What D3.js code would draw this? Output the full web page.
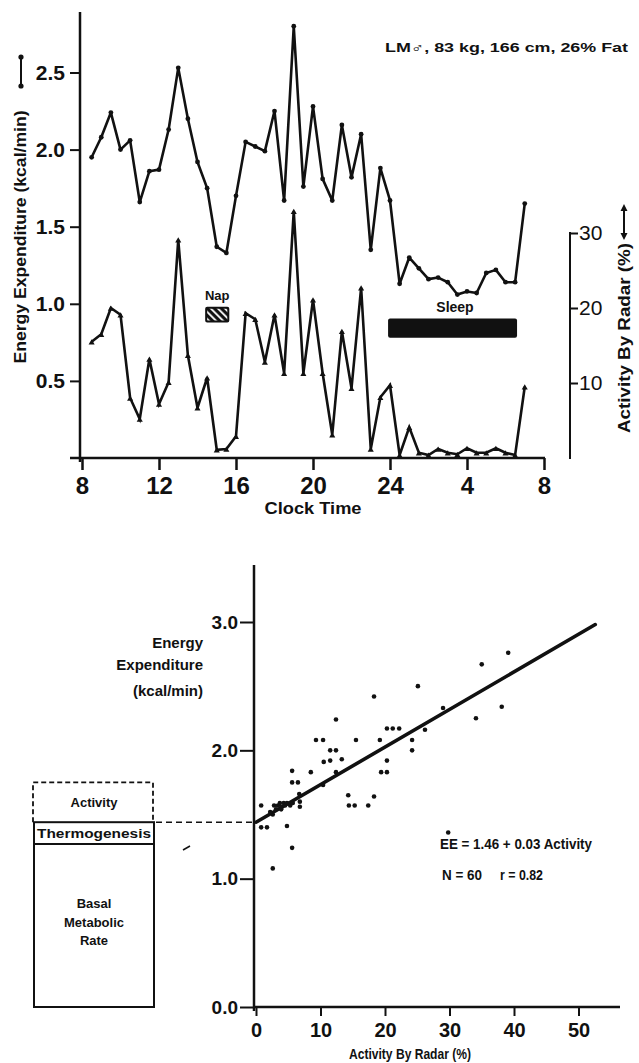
<!DOCTYPE html>
<html><head><meta charset="utf-8">
<script src="https://cdn.jsdelivr.net/npm/d3@7"></script>
<style>
body{margin:0;background:#fff}
svg{display:block}
text{font-family:"Liberation Sans",Arial,sans-serif;fill:#111;font-weight:bold}
</style>
</head><body>
<svg id="c" width="639" height="1063"></svg>
<script>
// ---------- Top panel data ----------
const clockHours = [8.5,9,9.5,10,10.5,11,11.5,12,12.5,13,13.5,14,14.5,15,15.5,16,16.5,17,17.5,18,18.5,19,19.5,20,20.5,21,21.5,22,22.5,23,23.5,24,24.5,25,25.5,26,26.5,27,27.5,28,28.5,29,29.5,30,30.5,31];
const energyExpenditure = [1.95,2.08,2.24,2.0,2.06,1.66,1.86,1.87,2.13,2.53,2.2,1.92,1.75,1.37,1.33,1.70,2.05,2.02,1.99,2.25,1.67,2.80,1.76,2.28,1.81,1.67,2.16,1.82,2.10,1.35,1.88,1.67,1.13,1.30,1.23,1.16,1.17,1.14,1.06,1.08,1.07,1.20,1.22,1.14,1.14,1.65];
const activityRadar = [15.5,16.5,20.0,19.1,8.0,5.2,13.2,7.2,10.1,29.1,13.7,6.7,10.7,1.1,1.2,2.9,19.3,18.5,12.8,19.1,11.3,32.9,11.3,21.1,11.3,3.1,16.9,9.3,22.7,1.2,8.1,9.7,0.4,4.1,0.7,0.4,1.2,0.7,0.5,1.3,0.7,0.7,1.3,0.7,0.4,9.5];
const timeTicks = [8,12,16,20,24,28,32];
const timeTickLabels = ["8","12","16","20","24","4","8"];
const eeTicks = [0.5,1.0,1.5,2.0,2.5];
const activityTicks = [10,20,30];
const napPeriod = [14.45,15.6];   // clock hours
const sleepPeriod = [23.9,30.6];  // clock hours
const subjectLabel = "LM\u2642, 83 kg, 166 cm, 26% Fat";

// ---------- Bottom panel data ----------
const scatterActivity = [0.8,0.8,1.7,2.6,2.8,2.6,3.1,3.4,3.7,4.0,4.3,4.5,4.8,5.3,5.7,4.8,5.6,5.6,5.6,6.5,6.7,6.8,6.8,8.5,9.3,10.4,10.4,10.5,11.5,11.5,12.4,12.4,12.4,13.3,14.3,14.4,15.3,15.5,17.4,18.3,18.3,19.2,19.4,20.3,20.3,20.3,21.2,22.2,24.2,24.2,25.1,26.2,29.0,29.8,34.1,35.0,38.1,39.1,3.9,2.2];
const scatterEE = [1.57,1.40,1.40,1.08,1.57,1.50,1.54,1.57,1.59,1.56,1.59,1.57,1.59,1.57,1.59,1.41,1.24,1.84,1.75,1.75,1.66,1.60,1.56,1.83,2.08,2.08,1.73,1.91,2.00,1.92,2.24,2.00,1.83,1.93,1.65,1.57,1.57,2.08,1.57,1.64,2.42,2.08,1.83,1.83,1.92,2.17,2.17,2.17,2.08,2.00,2.50,2.16,2.33,1.36,2.25,2.67,2.34,2.76,1.54,1.52];
const fitActivity = [0,52.6];
const fitEE = [1.44,2.98];
const radarTicks = [0,10,20,30,40,50];
const eeTicks2 = [0,1,2,3];
const bandLabels = ["Basal Metabolic Rate","Thermogenesis","Activity"];
const bandFrom = [0,1.27,1.44];
const bandTo = [1.27,1.44,1.75];

const svg = d3.select("#c");
const ink = "#111";

// ================= TOP PANEL =================
const x = d3.scaleLinear().domain([8,32]).range([82,544]);
const yEE = d3.scaleLinear().domain([0,2.5]).range([458,72.5]);
const yAct = d3.scaleLinear().domain([0,30]).range([458,233]);

// axis lines
svg.append("line").attr("x1",80).attr("x2",80).attr("y1",12).attr("y2",462).attr("stroke",ink).attr("stroke-width",2.5);
svg.append("line").attr("x1",70).attr("x2",545).attr("y1",458).attr("y2",458).attr("stroke",ink).attr("stroke-width",2.5);
svg.append("line").attr("x1",570).attr("x2",570).attr("y1",yAct(30)-1).attr("y2",459).attr("stroke",ink).attr("stroke-width",2);

const gL = svg.append("g").attr("transform","translate(80,0)")
  .call(d3.axisLeft(yEE).tickValues(eeTicks).tickSize(10).tickPadding(5).tickFormat(d3.format(".1f")));
gL.select(".domain").remove();
gL.selectAll(".tick line").attr("stroke",ink).attr("stroke-width",2);
gL.selectAll("text").style("font-size","21px").attr("fill",ink);

const gX = svg.append("g").attr("transform","translate(0,458)")
  .call(d3.axisBottom(x).tickValues(timeTicks).tickSize(12).tickPadding(7).tickFormat((d,i)=>timeTickLabels[i]));
gX.select(".domain").remove();
gX.selectAll(".tick line").attr("stroke",ink).attr("stroke-width",2.5);
gX.selectAll("text").style("font-size","24px").attr("fill",ink);

const gR = svg.append("g").attr("transform","translate(570,0)")
  .call(d3.axisRight(yAct).tickValues(activityTicks).tickSize(8).tickPadding(1));
gR.select(".domain").remove();
gR.selectAll(".tick line").attr("stroke",ink).attr("stroke-width",2);
gR.selectAll("text").style("font-size","21px").style("font-weight","normal").attr("fill",ink);

// series lines
const eeLine = d3.line().x((d,i)=>x(clockHours[i])).y(d=>yEE(d));
svg.append("path").attr("d",eeLine(energyExpenditure)).attr("fill","none").attr("stroke",ink).attr("stroke-width",2.6).attr("stroke-linejoin","round");
svg.selectAll(".eeDot").data(energyExpenditure).enter().append("circle")
  .attr("cx",(d,i)=>x(clockHours[i])).attr("cy",d=>yEE(d)).attr("r",2.4).attr("fill",ink);

const actLine = d3.line().x((d,i)=>x(clockHours[i])).y(d=>yAct(d));
svg.append("path").attr("d",actLine(activityRadar)).attr("fill","none").attr("stroke",ink).attr("stroke-width",2.6).attr("stroke-linejoin","miter");
const tri = d3.symbol().type(d3.symbolTriangle).size(16);
svg.selectAll(".actMk").data(activityRadar).enter().append("path")
  .attr("d",tri).attr("transform",(d,i)=>`translate(${x(clockHours[i])},${yAct(d)+1})`).attr("fill",ink);

// Nap box
const defs = svg.append("defs");
const pat = defs.append("pattern").attr("id","hatch").attr("patternUnits","userSpaceOnUse")
  .attr("width",5).attr("height",5).attr("patternTransform","rotate(-45)");
pat.append("rect").attr("width",5).attr("height",5).attr("fill",ink);
pat.append("rect").attr("width",1.8).attr("height",5).attr("fill","#fff");
svg.append("rect").attr("x",x(napPeriod[0])).attr("y",yEE(0.975)).attr("width",x(napPeriod[1])-x(napPeriod[0]))
  .attr("height",yEE(0.885)-yEE(0.975)).attr("fill","url(#hatch)").attr("stroke",ink).attr("stroke-width",2).attr("rx",1);
svg.append("text").attr("x",(x(napPeriod[0])+x(napPeriod[1]))/2).attr("y",300).attr("text-anchor","middle").style("font-size","13px").text("Nap");

// Sleep bar
svg.append("rect").attr("x",x(sleepPeriod[0])).attr("y",yEE(0.905)).attr("width",x(sleepPeriod[1])-x(sleepPeriod[0]))
  .attr("height",yEE(0.78)-yEE(0.905)).attr("fill",ink).attr("rx",2);
svg.append("text").attr("x",455).attr("y",312).attr("text-anchor","middle").style("font-size","14px").text("Sleep");

// subject label
svg.append("text").attr("x",385).attr("y",52).attr("textLength",243).attr("lengthAdjust","spacingAndGlyphs").style("font-size","13px").text(subjectLabel);

// axis titles
svg.append("text").attr("transform","translate(26,237) rotate(-90)").attr("text-anchor","middle")
  .attr("textLength",253).attr("lengthAdjust","spacingAndGlyphs").style("font-size","16px").text("Energy Expenditure (kcal/min)");
svg.append("line").attr("x1",21).attr("x2",21).attr("y1",57).attr("y2",86).attr("stroke",ink).attr("stroke-width",2);
svg.append("circle").attr("cx",21).attr("cy",57).attr("r",2.6).attr("fill",ink);
svg.append("circle").attr("cx",21).attr("cy",86).attr("r",2.6).attr("fill",ink);

svg.append("text").attr("transform","translate(630,338) rotate(-90)").attr("text-anchor","middle")
  .attr("textLength",190).attr("lengthAdjust","spacingAndGlyphs").style("font-size","16px").text("Activity By Radar (%)");
svg.append("line").attr("x1",624).attr("x2",624).attr("y1",207).attr("y2",237).attr("stroke",ink).attr("stroke-width",2);
svg.append("path").attr("d","M620.5,211 L624,204 L627.5,211 Z M620.5,233 L624,240 L627.5,233 Z").attr("fill",ink);

svg.append("text").attr("x",313).attr("y",514).attr("text-anchor","middle").attr("textLength",97).attr("lengthAdjust","spacingAndGlyphs")
  .style("font-size","17px").text("Clock Time");

// ================= BOTTOM PANEL =================
const xs = d3.scaleLinear().domain([0,50]).range([256,578.5]);
const ys = d3.scaleLinear().domain([0,3]).range([1007,622]);

svg.append("line").attr("x1",254).attr("x2",254).attr("y1",565).attr("y2",1011).attr("stroke",ink).attr("stroke-width",2.5);
svg.append("line").attr("x1",253).attr("x2",620).attr("y1",1007).attr("y2",1007).attr("stroke",ink).attr("stroke-width",2.5);

const gY2 = svg.append("g").attr("transform","translate(254,0)")
  .call(d3.axisLeft(ys).tickValues(eeTicks2).tickSize(14).tickPadding(2).tickFormat(d3.format(".1f")));
gY2.select(".domain").remove();
gY2.selectAll(".tick line").attr("stroke",ink).attr("stroke-width",2);
gY2.selectAll("text").style("font-size","19px").attr("fill",ink);

const gX2 = svg.append("g").attr("transform","translate(0,1007)")
  .call(d3.axisBottom(xs).tickValues(radarTicks).tickSize(9).tickPadding(7));
gX2.select(".domain").remove();
gX2.selectAll(".tick line").attr("stroke",ink).attr("stroke-width",2);
gX2.selectAll("text").style("font-size","20px").attr("fill",ink);

// fit line
svg.append("line").attr("x1",xs(fitActivity[0])).attr("y1",ys(fitEE[0])).attr("x2",xs(fitActivity[1])).attr("y2",ys(fitEE[1]))
  .attr("stroke",ink).attr("stroke-width",3.6).attr("stroke-linecap","round");

// scatter
svg.selectAll(".sc").data(scatterActivity).enter().append("circle")
  .attr("cx",d=>xs(d)).attr("cy",(d,i)=>ys(scatterEE[i])).attr("r",2.3).attr("fill",ink);

// equation text
svg.append("text").attr("x",440).attr("y",849).attr("textLength",152).attr("lengthAdjust","spacingAndGlyphs").style("font-size","15px").text("EE = 1.46 + 0.03 Activity");
svg.append("text").attr("x",442).attr("y",880).attr("textLength",40).attr("lengthAdjust","spacingAndGlyphs").style("font-size","15px").text("N = 60");
svg.append("text").attr("x",500).attr("y",880).attr("textLength",43).attr("lengthAdjust","spacingAndGlyphs").style("font-size","15px").text("r = 0.82");

// y title
["Energy","Expenditure","(kcal/min)"].forEach((t,i)=>{
  svg.append("text").attr("x",203).attr("y",[648,670,696][i]).attr("text-anchor","end").style("font-size","15px").text(t);
});
svg.append("text").attr("x",410).attr("y",1059).attr("text-anchor","middle").attr("textLength",122).attr("lengthAdjust","spacingAndGlyphs")
  .style("font-size","15px").text("Activity By Radar (%)");

// energy partition boxes
const bx0 = 34, bx1 = 154;
// solid box (basal + thermogenesis)
svg.append("rect").attr("x",bx0).attr("y",ys(bandTo[1])).attr("width",bx1-bx0).attr("height",ys(bandFrom[0])-ys(bandTo[1]))
  .attr("fill","none").attr("stroke",ink).attr("stroke-width",2);
svg.append("line").attr("x1",bx0).attr("x2",bx1).attr("y1",ys(bandTo[0])).attr("y2",ys(bandTo[0])).attr("stroke",ink).attr("stroke-width",2);
// dashed activity box
svg.append("path").attr("d",`M${bx0-1},${ys(bandFrom[2])} V${ys(bandTo[2])} H${bx1-1} V${ys(bandFrom[2])}`)
  .attr("fill","none").attr("stroke",ink).attr("stroke-width",1.8).attr("stroke-dasharray","5,3");
// dashed guide to intercept
svg.append("line").attr("x1",bx1+2).attr("x2",254).attr("y1",ys(fitEE[0])).attr("y2",ys(fitEE[0]))
  .attr("stroke",ink).attr("stroke-width",1.5).attr("stroke-dasharray","6,4");
// band labels
const bcx = (bx0+bx1)/2;
svg.append("text").attr("x",bcx).attr("y",(ys(bandFrom[2])+ys(bandTo[2]))/2+5).attr("text-anchor","middle").style("font-size","13px").text(bandLabels[2]);
svg.append("text").attr("x",bcx).attr("y",(ys(bandFrom[1])+ys(bandTo[1]))/2+5).attr("text-anchor","middle")
  .attr("textLength",114).attr("lengthAdjust","spacingAndGlyphs").style("font-size","13px").text(bandLabels[1]);
bandLabels[0].split(" ").forEach((w,i)=>{
  svg.append("text").attr("x",bcx).attr("y",908+i*18.5).attr("text-anchor","middle").style("font-size","13px").text(w);
});
// small stray mark
svg.append("line").attr("x1",183).attr("y1",850).attr("x2",190).attr("y2",846).attr("stroke",ink).attr("stroke-width",1.5);
</script>
</body></html>
